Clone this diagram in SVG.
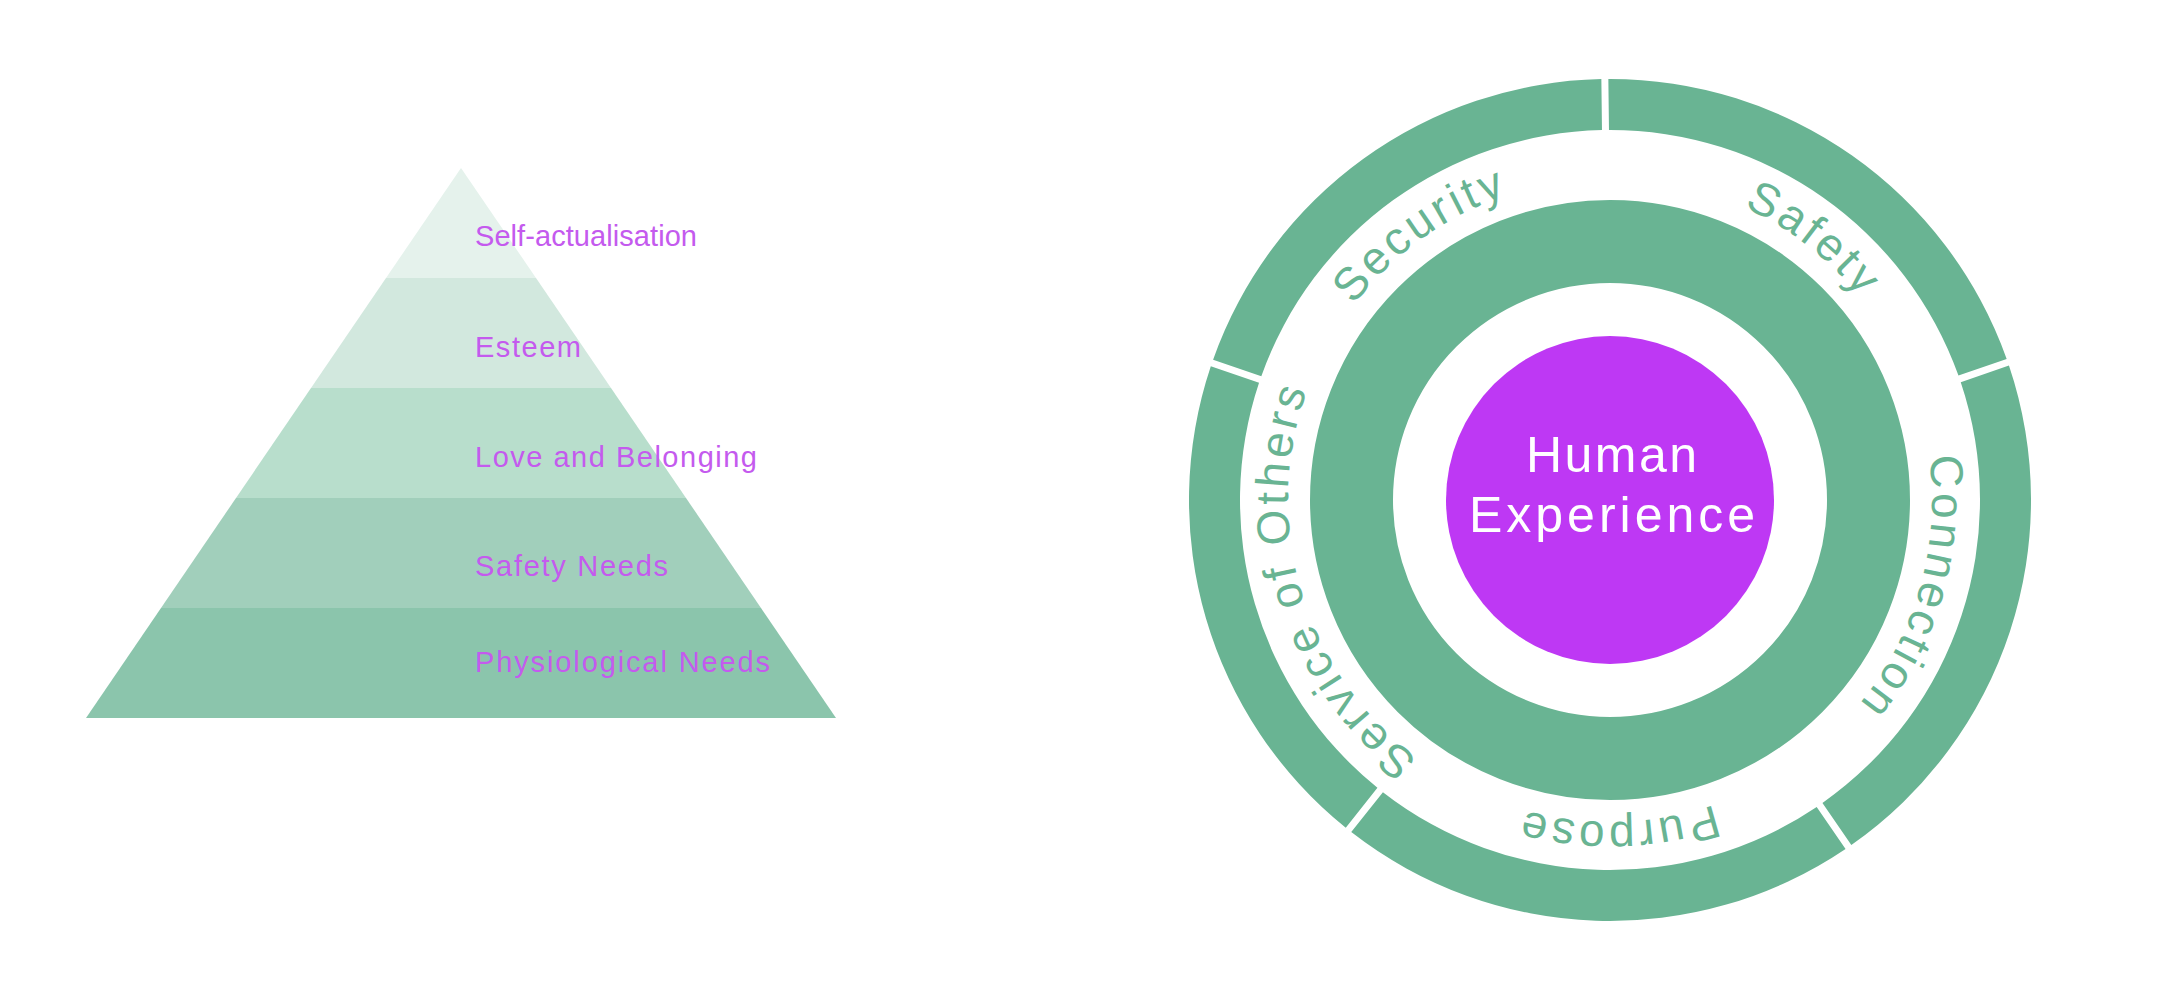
<svg xmlns="http://www.w3.org/2000/svg" xmlns:xlink="http://www.w3.org/1999/xlink" width="2164" height="986" viewBox="0 0 2164 986">
<style>
.lvl{font-family:"Liberation Sans",Arial,sans-serif;font-size:29px;fill:#C45AEE}
.ring{fill:#69B493}
.lbl{font-family:"Liberation Sans",Arial,sans-serif;font-size:46px;letter-spacing:3.5px;fill:#69B493}
.core{font-family:"Liberation Sans",Arial,sans-serif;font-size:50px;fill:#FFFFFF}
</style>
<defs>
<path id="pSecurity" d="M 1289.48 530.86 A 322 322 0 0 1 1743.53 206.99"/>
<path id="pSafety" d="M 1489.38 201.45 A 322 322 0 0 1 1928.87 544.81"/>
<path id="pConnection" d="M 1841.63 276.32 A 322 322 0 0 1 1687.90 812.44"/>
<path id="pPurpose" d="M 1892.98 653.65 A 322 322 0 0 1 1335.45 668.25"/>
<path id="pService" d="M 1534.83 813.10 A 322 322 0 0 1 1376.43 278.35"/>
</defs>
<rect width="2164" height="986" fill="#FFFFFF"/>
<g id="pyramid">
<g id="level-self-actualisation">
<polygon points="461,168 536,278 386,278" fill="#E5F2EC"/>
<text class="lvl" x="475" y="246" textLength="222" lengthAdjust="spacing">Self-actualisation</text>
</g>
<g id="level-esteem">
<polygon points="386,278 536,278 611,388 311,388" fill="#D2E8DE"/>
<text class="lvl" x="475" y="357" textLength="106" lengthAdjust="spacing">Esteem</text>
</g>
<g id="level-love">
<polygon points="311,388 611,388 686,498 236,498" fill="#B8DECC"/>
<text class="lvl" x="475" y="467" textLength="282" lengthAdjust="spacing">Love and Belonging</text>
</g>
<g id="level-safety">
<polygon points="236,498 686,498 761,608 161,608" fill="#A1CFBB"/>
<text class="lvl" x="475" y="576" textLength="193" lengthAdjust="spacing">Safety Needs</text>
</g>
<g id="level-physiological">
<polygon points="161,608 761,608 836,718 86,718" fill="#8BC5AC"/>
<text class="lvl" x="475" y="672" textLength="295" lengthAdjust="spacing">Physiological Needs</text>
</g>
</g>
<g id="wheel">
<g id="seg-safety">
<path class="ring" d="M 1608.35 79 A 421 421 0 0 1 2006.67 358.94 L 1958.47 375.62 A 370 370 0 0 0 1608.98 130 Z"/>
<text class="lbl"><textPath xlink:href="#pSafety" href="#pSafety" startOffset="50%" text-anchor="middle">Safety</textPath></text>
</g>
<g id="seg-connection">
<path class="ring" d="M 2008.95 365.55 A 421 421 0 0 1 1851.33 844.96 L 1822.45 802.93 A 370 370 0 0 0 1960.76 382.24 Z"/>
<text class="lbl"><textPath xlink:href="#pConnection" href="#pConnection" startOffset="50%" text-anchor="middle">Connection</textPath></text>
</g>
<g id="seg-purpose">
<path class="ring" d="M 1845.57 848.92 A 421 421 0 0 1 1351.25 832.10 L 1382.93 792.13 A 370 370 0 0 0 1816.68 806.89 Z"/>
<text class="lbl"><textPath xlink:href="#pPurpose" href="#pPurpose" startOffset="50%" text-anchor="middle">Purpose</textPath></text>
</g>
<g id="seg-service">
<path class="ring" d="M 1345.76 827.75 A 421 421 0 0 1 1210.81 366.25 L 1259.04 382.85 A 370 370 0 0 0 1377.44 787.78 Z"/>
<text class="lbl"><textPath xlink:href="#pService" href="#pService" startOffset="50%" text-anchor="middle">Service of Others</textPath></text>
</g>
<g id="seg-security">
<path class="ring" d="M 1213.09 359.63 A 421 421 0 0 1 1601.36 79.09 L 1601.98 130.09 A 370 370 0 0 0 1261.31 376.23 Z"/>
<text class="lbl"><textPath xlink:href="#pSecurity" href="#pSecurity" startOffset="50%" text-anchor="middle">Security</textPath></text>
</g>
<g id="middle-ring">
<circle cx="1610" cy="500" r="258.5" fill="none" stroke="#69B493" stroke-width="83"/>
</g>
<g id="human-experience">
<circle cx="1610" cy="500" r="164" fill="#BE38F4"/>
<text class="core" x="1526" y="472" textLength="171" lengthAdjust="spacing">Human</text>
<text class="core" x="1469" y="532" textLength="286" lengthAdjust="spacing">Experience</text>
</g>
</g>
<g id="connectors"/>
</svg>
